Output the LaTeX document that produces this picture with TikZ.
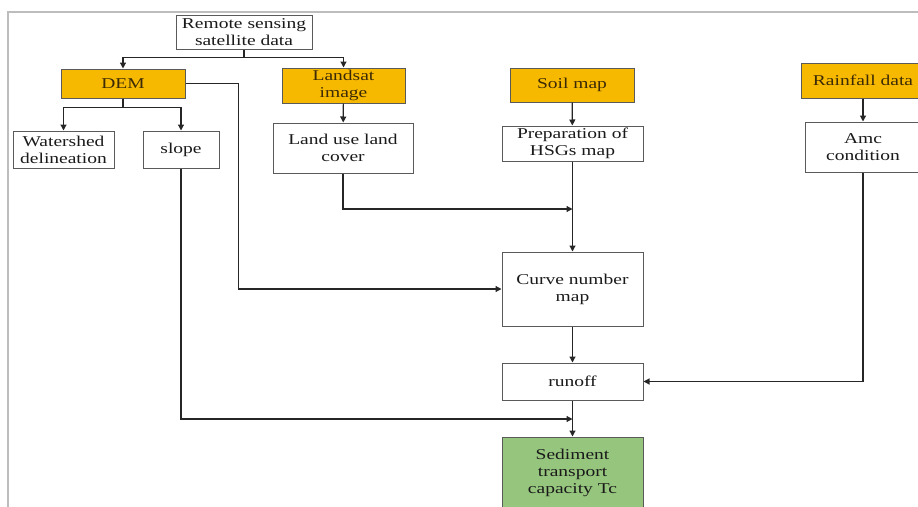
\documentclass[tikz,border=0pt]{standalone}
\usepackage{fontspec}
\setmainfont{Liberation Serif}[FakeStretch=1.3]
\usetikzlibrary{arrows.meta}
\definecolor{gold}{HTML}{F7B900}
\definecolor{sedgreen}{HTML}{96C67E}
\definecolor{edgec}{HTML}{5A5A5A}
\definecolor{txt}{HTML}{1A1A1A}
\definecolor{goldtxt}{HTML}{3B2A05}
\definecolor{framec}{HTML}{BDBDBD}
\begin{document}
\begin{tikzpicture}[x=1pt,y=-1pt,
  box/.style={draw=edgec, line width=1pt, fill=white, inner sep=0pt, align=center, text=txt, font=\fontsize{15}{17}\selectfont},
  goldbox/.style={box, fill=gold, text=goldtxt},
  greenbox/.style={box, fill=sedgreen},
  conn/.style={draw=black!85, line width=1.2pt, -{Triangle[length=6pt,width=6pt]}}]
\useasboundingbox (0,0) rectangle (918,506);
\clip (0,0) rectangle (918,506);
\draw[framec, line width=1.5pt] (8,510) -- (8,12) -- (920,12);

\node[box, minimum width=136pt, minimum height=34pt] (rs) at (244,32) {Remote sensing\\satellite data};
\node[goldbox, minimum width=124pt, minimum height=29pt] (dem) at (123,83.5) {DEM};
\node[goldbox, minimum width=123pt, minimum height=35pt] (landsat) at (343.5,85.5) {Landsat\\image};
\node[box, minimum width=101pt, minimum height=37pt] (ws) at (63.5,149.5) {Watershed\\delineation};
\node[box, minimum width=76pt, minimum height=37pt] (slope) at (181,149.5) {slope};
\node[box, minimum width=140pt, minimum height=50pt] (lu) at (343,148) {Land use land\\cover};
\node[goldbox, minimum width=124pt, minimum height=34pt] (soil) at (572,85) {Soil map};
\node[box, minimum width=141pt, minimum height=35pt] (prep) at (572.5,143.5) {Preparation of\\HSGs map};
\node[goldbox, minimum width=124pt, minimum height=35pt] (rain) at (863,80.5) {Rainfall data};
\node[box, minimum width=116pt, minimum height=50pt] (amc) at (863,147) {Amc\\condition};
\node[box, minimum width=141pt, minimum height=74pt] (cn) at (572.5,289) {Curve number\\map};
\node[box, minimum width=141pt, minimum height=37pt] (runoff) at (572.5,381.5) {runoff};
\node[greenbox, minimum width=141pt, minimum height=72pt] (sed) at (572.5,473) {Sediment\\transport\\capacity Tc};

\coordinate (j1) at (572.5,209);
\coordinate (j2) at (572.5,419);

\draw[conn] (rs.south) -- ++(0,8) -| (dem.north);
\draw[conn] (rs.south) -- ++(0,8) -| (landsat.north);
\draw[conn] (dem.south) -- ++(0,9) -| (ws.north);
\draw[conn] (dem.south) -- ++(0,9) -| (slope.north);
\draw[conn] (dem.east) -- ++(53,0) |- (cn.west);
\draw[conn] (slope.south) |- (j2);
\draw[conn] (landsat) -- (lu);
\draw[conn] (lu.south) |- (j1);
\draw[conn] (soil) -- (prep);
\draw[conn] (prep) -- (cn);
\draw[conn] (rain) -- (amc);
\draw[conn] (amc.south) |- (runoff.east);
\draw[conn] (cn) -- (runoff);
\draw[conn] (runoff) -- (sed);
\end{tikzpicture}
\end{document}
